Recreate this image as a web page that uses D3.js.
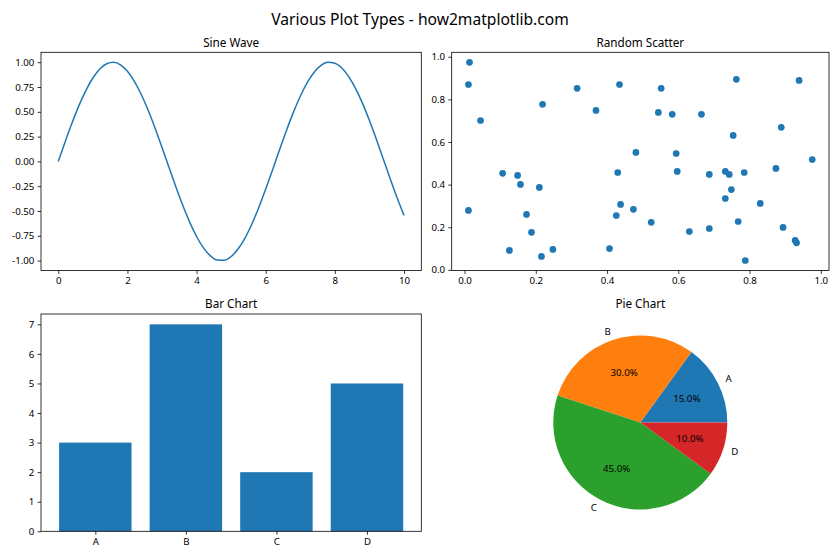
<!DOCTYPE html>
<html>
<head>
<meta charset="utf-8">
<script src="https://cdn.jsdelivr.net/npm/d3@7"></script>
<style>
  body { margin: 0; background: #fff; }
  svg { display: block; font-family: "Segoe UI", "Noto Sans", "Open Sans", sans-serif; }
</style>
</head>
<body>
<svg id="chart" width="840" height="560"></svg>
<script>
// ---- Data ----
const sineX = [0,0.2,0.4,0.6,0.8,1.0,1.2,1.4,1.6,1.8,2.0,2.2,2.4,2.6,2.8,3.0,3.2,3.4,3.6,3.8,4.0,4.2,4.4,4.6,4.8,5.0,5.2,5.4,5.6,5.8,6.0,6.2,6.4,6.6,6.8,7.0,7.2,7.4,7.6,7.8,8.0,8.2,8.4,8.6,8.8,9.0,9.2,9.4,9.6,9.8,10.0];
const sineY = [0,0.199,0.389,0.565,0.717,0.841,0.932,0.985,1.000,0.974,0.909,0.808,0.675,0.516,0.335,0.141,-0.058,-0.256,-0.443,-0.612,-0.757,-0.872,-0.952,-0.994,-0.996,-0.959,-0.883,-0.773,-0.631,-0.465,-0.279,-0.083,0.117,0.312,0.494,0.657,0.794,0.899,0.968,0.999,0.989,0.941,0.855,0.734,0.585,0.412,0.223,0.025,-0.174,-0.366,-0.544];

const scatterX = [0.014,0.011,0.045,0.219,0.316,0.369,0.435,0.481,0.552,0.544,0.583,0.665,0.763,0.939,0.889,0.754,0.594,0.976,
  0.107,0.149,0.157,0.210,0.430,0.011,0.174,0.438,0.474,0.426,0.188,0.126,0.248,0.216,0.407,
  0.597,0.687,0.732,0.743,0.785,0.874,0.749,0.732,0.830,0.524,0.631,0.687,0.768,0.894,0.928,0.932,0.788];
const scatterY = [0.974,0.870,0.701,0.777,0.852,0.748,0.870,0.551,0.852,0.739,0.730,0.730,0.894,0.889,0.669,0.631,0.546,0.518,
  0.453,0.443,0.401,0.387,0.457,0.279,0.260,0.307,0.284,0.255,0.176,0.091,0.096,0.063,0.100,
  0.462,0.448,0.462,0.448,0.457,0.476,0.377,0.335,0.312,0.223,0.180,0.194,0.227,0.199,0.138,0.127,0.044];

const barCategories = ["A","B","C","D"];
const barValues = [3,7,2,5];

const pieLabels = ["A","B","C","D"];
const pieValues = [15,30,45,10];
const pieColors = ["#1f77b4","#ff7f0e","#2ca02c","#d62728"];

const sineYTicks = [-1.00,-0.75,-0.50,-0.25,0.00,0.25,0.50,0.75,1.00];
const sineXTicks = [0,2,4,6,8,10];
const scatterTicks = [0.0,0.2,0.4,0.6,0.8,1.0];
const barYTicks = [0,1,2,3,4,5,6,7];

// ---- Layout ----
const svg = d3.select("#chart");
const blue = "#1f77b4";
const FS = 9.7;
const boxes = {
  tl: {x0: 41, x1: 421.3, y0: 52.3, y1: 270.5},
  tr: {x0: 451.7, x1: 829, y0: 52.3, y1: 270.5},
  bl: {x0: 41, x1: 421.3, y0: 314, y1: 531.3},
  br: {x0: 451.7, x1: 829, y0: 314, y1: 531.3}
};

svg.append("text").attr("x", 420).attr("y", 25).attr("text-anchor", "middle")
  .attr("font-size", 15.6).attr("fill", "#000").text("Various Plot Types - how2matplotlib.com");

function fmtMinus(s) { return s.replace("−", "-"); }

function drawAxes(b, xs, ys, xticks, yticks, xfmt, yfmt, title) {
  const g = svg.append("g");
  const xAxis = d3.axisBottom(xs).tickValues(xticks).tickSize(3.4).tickPadding(3.2)
    .tickFormat(d => fmtMinus(xfmt(d)));
  const yAxis = d3.axisLeft(ys).tickValues(yticks).tickSize(3.4).tickPadding(3.2)
    .tickFormat(d => fmtMinus(yfmt(d)));
  const gx = g.append("g").attr("transform", `translate(0,${b.y1})`).call(xAxis);
  const gy = g.append("g").attr("transform", `translate(${b.x0},0)`).call(yAxis);
  [gx, gy].forEach(a => {
    a.select(".domain").remove();
    a.selectAll("line").attr("stroke", "#000").attr("stroke-width", 0.8);
    a.selectAll("text").attr("font-size", FS).attr("fill", "#000")
      .attr("font-family", "'Segoe UI','Noto Sans','Open Sans',sans-serif");
  });
  g.append("rect").attr("x", b.x0).attr("y", b.y0).attr("width", b.x1 - b.x0).attr("height", b.y1 - b.y0)
    .attr("fill", "none").attr("stroke", "#000").attr("stroke-width", 0.8);
  svg.append("text").attr("x", (b.x0 + b.x1) / 2).attr("y", b.y0 - 5.8).attr("text-anchor", "middle")
    .attr("font-size", 11.7).attr("fill", "#000").text(title);
  return g;
}

// ---- Sine Wave ----
{
  const b = boxes.tl;
  const xs = d3.scaleLinear().domain([-0.5, 10.5]).range([b.x0, b.x1]);
  const ys = d3.scaleLinear().domain([-1.1, 1.1]).range([b.y1, b.y0]);
  const pts = sineX.map((x, i) => [x, sineY[i]]);
  svg.append("path").datum(pts)
    .attr("d", d3.line().x(d => xs(d[0])).y(d => ys(d[1])).curve(d3.curveMonotoneX))
    .attr("fill", "none").attr("stroke", blue).attr("stroke-width", 1.5);
  drawAxes(b, xs, ys, sineXTicks, sineYTicks, d3.format("d"), d3.format(".2f"), "Sine Wave");
}

// ---- Random Scatter ----
{
  const b = boxes.tr;
  const xs = d3.scaleLinear().domain([-0.036, 1.023]).range([b.x0, b.x1]);
  const ys = d3.scaleLinear().domain([-0.003, 1.021]).range([b.y1, b.y0]);
  svg.append("g").selectAll("circle").data(scatterX.map((x, i) => [x, scatterY[i]])).join("circle")
    .attr("cx", d => xs(d[0])).attr("cy", d => ys(d[1])).attr("r", 3.35).attr("fill", blue);
  drawAxes(b, xs, ys, scatterTicks, scatterTicks, d3.format(".1f"), d3.format(".1f"), "Random Scatter");
}

// ---- Bar Chart ----
{
  const b = boxes.bl;
  const xs = d3.scaleLinear().domain([-0.6, 3.6]).range([b.x0, b.x1]);
  const ys = d3.scaleLinear().domain([0, 7.35]).range([b.y1, b.y0]);
  svg.append("g").selectAll("rect").data(barValues).join("rect")
    .attr("x", (d, i) => xs(i - 0.4)).attr("width", (d, i) => xs(i + 0.4) - xs(i - 0.4))
    .attr("y", d => ys(d)).attr("height", d => ys(0) - ys(d)).attr("fill", blue);
  drawAxes(b, xs, ys, [0,1,2,3], barYTicks, i => barCategories[i], d3.format("d"), "Bar Chart");
}

// ---- Pie Chart ----
{
  const b = boxes.br;
  const cx = 640.3, cy = 422.5, r = 87;
  const total = d3.sum(pieValues);
  const g = svg.append("g").attr("transform", `translate(${cx},${cy})`);
  let start = 0; // degrees, counterclockwise from +x
  pieValues.forEach((v, i) => {
    const sweep = v / total * 360;
    const a0 = start, a1 = start + sweep;
    const arc = d3.arc().innerRadius(0).outerRadius(r)
      .startAngle((90 - a1) * Math.PI / 180).endAngle((90 - a0) * Math.PI / 180);
    g.append("path").attr("d", arc()).attr("fill", pieColors[i]);
    const mid = (a0 + a1) / 2 * Math.PI / 180;
    const lx = 1.1 * r * Math.cos(mid), ly = -1.1 * r * Math.sin(mid);
    g.append("text").attr("x", lx).attr("y", ly).attr("dy", "0.35em")
      .attr("text-anchor", lx > 0 ? "start" : "end").attr("font-size", FS).attr("fill", "#000")
      .text(pieLabels[i]);
    const px = 0.6 * r * Math.cos(mid), py = -0.6 * r * Math.sin(mid);
    g.append("text").attr("x", px).attr("y", py).attr("dy", "0.35em")
      .attr("text-anchor", "middle").attr("font-size", FS).attr("fill", "#000")
      .text(d3.format(".1f")(v / total * 100) + "%");
    start = a1;
  });
  svg.append("text").attr("x", (b.x0 + b.x1) / 2).attr("y", b.y0 - 5.8).attr("text-anchor", "middle")
    .attr("font-size", 11.7).attr("fill", "#000").text("Pie Chart");
}
</script>
</body>
</html>
